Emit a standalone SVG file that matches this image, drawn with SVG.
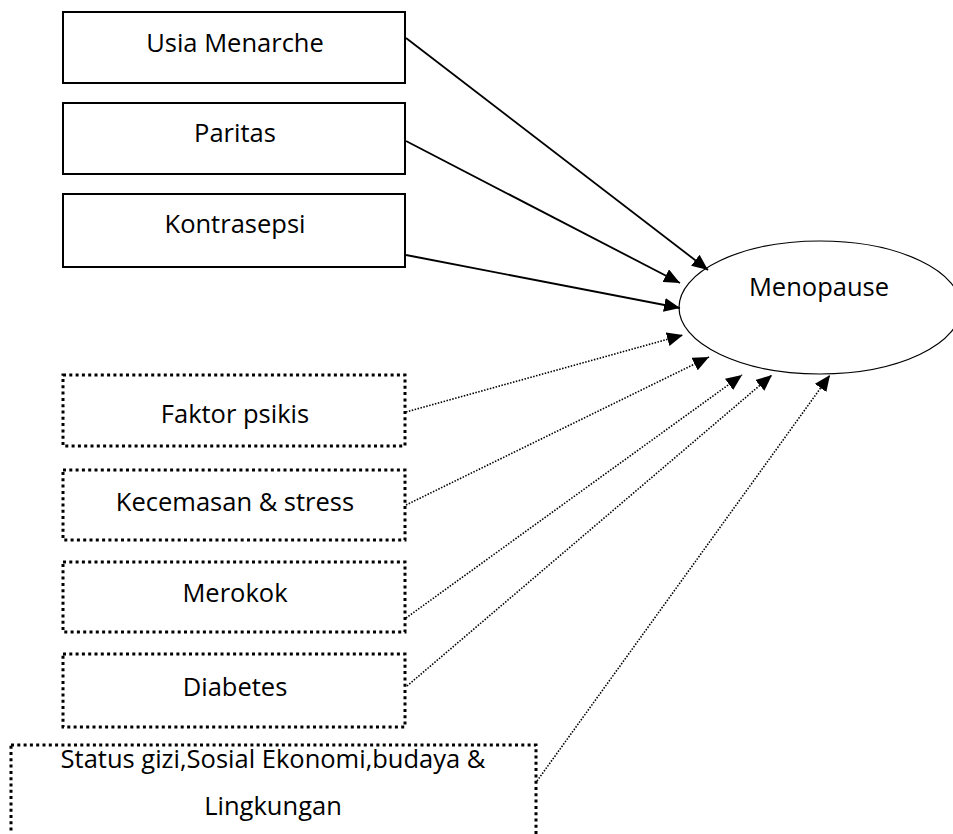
<svg xmlns="http://www.w3.org/2000/svg" width="953" height="834" viewBox="0 0 953 834">
<style>
  .box { fill: #fff; stroke: #000; stroke-width: 2; }
  .dbox { fill: #fff; stroke: #000; stroke-width: 3; stroke-dasharray: 3 3.3; }
  .lbl { font-family: "Open Sans", "Liberation Sans", sans-serif; font-size: 25.5px; fill: #000; text-anchor: middle; }
  .solid { stroke: #000; stroke-width: 1.8; fill: none; marker-end: url(#ah); }
  .dot { stroke: #000; stroke-width: 1.6; fill: none; stroke-dasharray: 1.5 1.5; marker-end: url(#ah); }
</style>
<defs>
  <marker id="ah" markerUnits="userSpaceOnUse" markerWidth="16" markerHeight="14" refX="16" refY="7" orient="auto">
    <path d="M0,0 L16,7 L0,14 z" fill="#000"/>
  </marker>
</defs>
<rect width="953" height="834" fill="#fff"/>

<g id="menopause">
  <ellipse cx="820" cy="307.5" rx="141" ry="66.5" fill="#fff" stroke="#000" stroke-width="1.2"/>
  <text class="lbl" x="819" y="296">Menopause</text>
</g>

<g id="usia-menarche">
  <rect class="box" x="63" y="12" width="342" height="71"/>
  <text class="lbl" x="235" y="52">Usia Menarche</text>
</g>
<g id="paritas">
  <rect class="box" x="63" y="103" width="342" height="71"/>
  <text class="lbl" x="235" y="142">Paritas</text>
</g>
<g id="kontrasepsi">
  <rect class="box" x="63" y="194" width="342" height="73"/>
  <text class="lbl" x="235" y="233">Kontrasepsi</text>
</g>

<g id="faktor-psikis">
  <rect class="dbox" x="63" y="375" width="342" height="71"/>
  <text class="lbl" x="235" y="423">Faktor psikis</text>
</g>
<g id="kecemasan">
  <rect class="dbox" x="63" y="470" width="342" height="70"/>
  <text class="lbl" x="235" y="511">Kecemasan &amp; stress</text>
</g>
<g id="merokok">
  <rect class="dbox" x="63" y="562" width="342" height="70"/>
  <text class="lbl" x="235" y="602">Merokok</text>
</g>
<g id="diabetes">
  <rect class="dbox" x="63" y="654" width="342" height="73"/>
  <text class="lbl" x="235" y="696">Diabetes</text>
</g>
<g id="status-gizi">
  <rect class="dbox" x="11" y="745" width="525" height="110"/>
  <text class="lbl" x="273" y="768">Status gizi,Sosial Ekonomi,budaya &amp;</text>
  <text class="lbl" x="273" y="815">Lingkungan</text>
</g>

<g id="connectors">
  <line class="solid" x1="406" y1="38" x2="708" y2="270"/>
  <line class="solid" x1="406" y1="141" x2="680" y2="283"/>
  <line class="solid" x1="406" y1="255" x2="680" y2="308"/>
  <line class="dot" x1="406" y1="412" x2="683" y2="335"/>
  <line class="dot" x1="406" y1="505" x2="709" y2="357"/>
  <line class="dot" x1="406" y1="618" x2="742" y2="375"/>
  <line class="dot" x1="407" y1="686" x2="772" y2="375"/>
  <line class="dot" x1="537" y1="781" x2="830" y2="375"/>
</g>
</svg>
